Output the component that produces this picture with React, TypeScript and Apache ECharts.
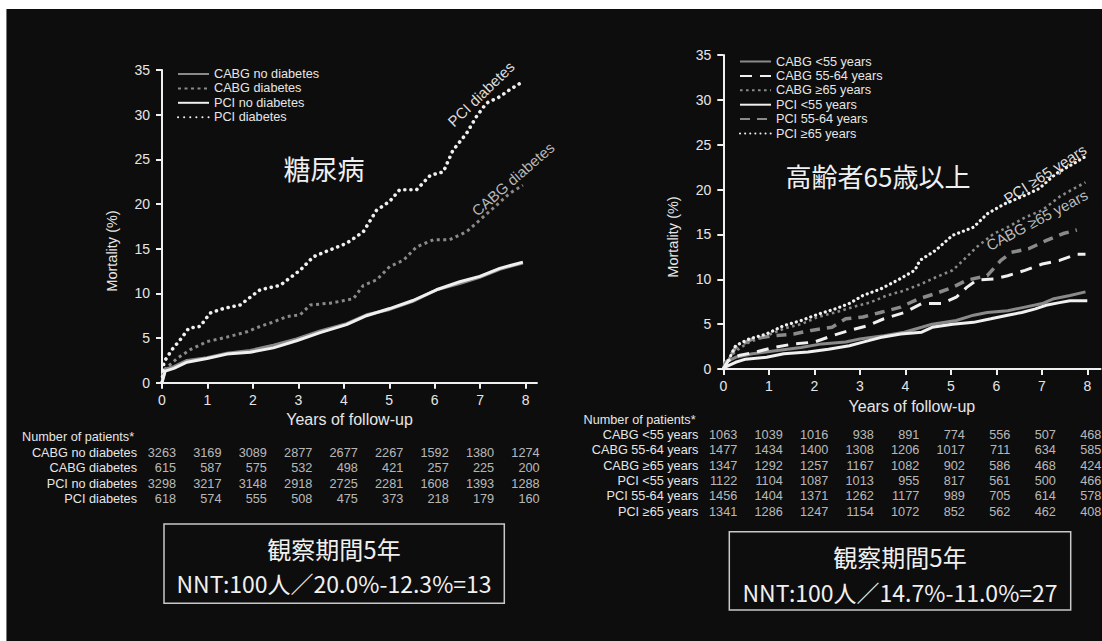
import React, { useEffect, useRef } from "react";
import * as echarts from "echarts";

// ---------- data ----------
const YEARS = [0, 1, 2, 3, 4, 5, 6, 7, 8];

const LEFT_NAMES = ["CABG no diabetes", "CABG diabetes", "PCI no diabetes", "PCI diabetes"];
const RIGHT_NAMES = [
  "CABG <55 years",
  "CABG 55-64 years",
  "CABG ≥65 years",
  "PCI <55 years",
  "PCI 55-64 years",
  "PCI ≥65 years",
];

// Mortality (%) curves, [years, %]
const cabgNoDiab = [[0,0],[0.07,1.5],[0.26,1.8],[0.55,2.5],[0.99,2.8],[1.43,3.3],[1.94,3.6],[2.45,4.2],[2.96,4.9],[3.48,5.8],[4.06,6.6],[4.5,7.6],[5.01,8.2],[5.52,9.1],[6.04,10.4],[6.55,11.1],[6.99,11.8],[7.43,12.7],[7.94,13.4]];
const cabgDiab = [[0,0],[0.04,1.4],[0.33,2.7],[0.62,3.7],[0.99,4.6],[1.43,5.1],[1.87,5.7],[2.16,6.3],[2.45,6.8],[2.75,7.4],[3.04,7.6],[3.26,8.7],[3.7,8.9],[4.21,9.4],[4.43,10.9],[4.72,11.5],[5.01,13.0],[5.31,13.7],[5.6,15.2],[5.97,16.0],[6.33,16.0],[6.7,16.9],[6.99,18.2],[7.28,19.5],[7.65,21.2],[7.94,22.1]];
const pciNoDiab = [[0,0],[0.07,1.3],[0.26,1.6],[0.55,2.3],[0.99,2.7],[1.43,3.2],[1.94,3.4],[2.45,3.9],[2.96,4.7],[3.48,5.6],[4.06,6.5],[4.5,7.5],[5.01,8.3],[5.52,9.2],[6.04,10.4],[6.55,11.3],[6.99,11.9],[7.43,12.8],[7.94,13.5]];
const pciDiab = [[0,0],[0.04,2.3],[0.22,3.7],[0.4,4.8],[0.59,6.1],[0.84,6.3],[1.06,7.8],[1.35,8.3],[1.72,8.7],[2.0,9.8],[2.16,10.4],[2.6,10.9],[3.04,12.6],[3.33,14.1],[3.62,14.7],[4.06,15.6],[4.43,16.9],[4.72,19.3],[5.01,20.3],[5.23,21.6],[5.6,21.6],[5.9,23.2],[6.19,23.6],[6.4,26.0],[6.7,27.9],[6.92,29.8],[7.14,31.3],[7.43,32.0],[7.65,32.8],[7.94,33.7]];

const cabgU55 = [[0,0],[0.04,0.75],[0.27,1.3],[0.64,1.7],[1.1,2.0],[1.71,2.4],[2.16,2.8],[2.69,3.0],[3.0,3.35],[3.53,3.7],[3.98,4.1],[4.36,4.65],[4.59,5.0],[5.12,5.4],[5.5,6.0],[5.8,6.3],[6.25,6.5],[6.63,6.9],[7.01,7.3],[7.24,7.8],[7.62,8.2],[7.96,8.6]];
const cabg5564 = [[0,0],[0.11,0.93],[0.34,1.5],[0.72,1.9],[1.1,2.4],[1.55,2.8],[2.0,3.0],[2.39,3.7],[2.77,4.3],[3.15,4.8],[3.53,5.6],[3.98,6.3],[4.36,7.3],[4.81,7.3],[5.12,8.0],[5.35,9.1],[5.57,9.9],[5.95,10.05],[6.25,10.4],[6.63,11.0],[7.01,11.7],[7.39,12.1],[7.77,12.8],[7.96,12.8]];
const cabgO65 = [[0,0],[0.08,0.93],[0.27,2.0],[0.57,3.0],[0.95,3.7],[1.33,4.5],[1.71,5.0],[2.08,5.8],[2.46,6.3],[2.84,6.9],[3.22,7.4],[3.6,8.2],[3.98,8.75],[4.36,9.5],[4.66,10.2],[5.04,11.0],[5.35,12.5],[5.57,13.6],[5.95,15.1],[6.25,15.8],[6.63,16.9],[7.01,17.7],[7.39,19.2],[7.7,20.1],[7.96,20.8]];
const pciU55 = [[0,0],[0.04,0.2],[0.27,0.75],[0.49,1.1],[0.95,1.3],[1.33,1.7],[1.86,1.9],[2.31,2.2],[2.77,2.6],[3.07,3.0],[3.45,3.5],[3.9,3.9],[4.36,4.1],[4.59,4.65],[5.04,5.0],[5.5,5.2],[5.88,5.6],[6.25,6.0],[6.56,6.3],[6.86,6.7],[7.09,7.1],[7.39,7.4],[7.62,7.6],[8.0,7.6]];
const pci5564 = [[0,0],[0.11,1.1],[0.27,2.4],[0.64,3.35],[1.1,3.7],[1.55,3.9],[1.93,4.3],[2.39,4.65],[2.69,5.6],[3.07,5.8],[3.45,6.3],[3.9,6.9],[4.28,7.8],[4.66,8.4],[5.04,9.1],[5.35,9.9],[5.8,10.4],[6.1,12.1],[6.33,13.0],[6.71,13.4],[7.09,14.3],[7.47,15.1],[7.77,15.5]];
const pciO65 = [[0,0],[0.11,0.93],[0.27,2.6],[0.57,3.35],[0.95,3.9],[1.33,4.84],[1.71,5.4],[2.08,6.1],[2.46,6.7],[2.77,7.3],[3.07,8.2],[3.45,8.9],[3.83,9.9],[4.21,11.0],[4.32,12.1],[4.66,13.2],[5.04,14.9],[5.5,15.8],[5.8,17.3],[6.18,18.4],[6.56,19.2],[6.94,20.1],[7.32,21.8],[7.7,22.9],[8.0,23.8]];

// Number of patients at risk
const leftAtRisk = [
  [3263, 3169, 3089, 2877, 2677, 2267, 1592, 1380, 1274],
  [615, 587, 575, 532, 498, 421, 257, 225, 200],
  [3298, 3217, 3148, 2918, 2725, 2281, 1608, 1393, 1288],
  [618, 574, 555, 508, 475, 373, 218, 179, 160],
];
const rightAtRisk = [
  [1063, 1039, 1016, 938, 891, 774, 556, 507, 468],
  [1477, 1434, 1400, 1308, 1206, 1017, 711, 634, 585],
  [1347, 1292, 1257, 1167, 1082, 902, 586, 468, 424],
  [1122, 1104, 1087, 1013, 955, 817, 561, 500, 466],
  [1456, 1404, 1371, 1262, 1177, 989, 705, 614, 578],
  [1341, 1286, 1247, 1154, 1072, 852, 562, 462, 408],
];

// ---------- styles ----------
const LAT = "'Liberation Sans', Arial, sans-serif";
const CJK = "'Noto Sans CJK JP', sans-serif";
const WHITE = "#f0f0f0";
const GRAY = "#8a8a8a";
const TXT = "#e6e6e6";
const FS = 12.7;

const styleSolid = (c: string) => ({ color: c, width: 3, type: "solid" as any });
const styleDots = (c: string, w: number, gap: number) => ({ color: c, width: w, type: [0.1, gap] as any, cap: "round" as any });
const styleSquareDots = (c: string, w: number, d: number, gap: number) => ({ color: c, width: w, type: [d, gap] as any });
const styleDash = (c: string, w: number, d: number, gap: number) => ({ color: c, width: w, type: [d, gap] as any });

function lineSeries(name: string, data: number[][], idx: number, ls: any, z = 2) {
  return {
    type: "line",
    name,
    data,
    xAxisIndex: idx,
    yAxisIndex: idx,
    showSymbol: false,
    symbol: "none",
    lineStyle: ls,
    itemStyle: { color: ls.color },
    z,
    silent: true,
  };
}

function tableSeries(names: string[], rows: number[][], idx: number) {
  const data: any[] = [];
  rows.forEach((r, ri) => r.forEach((v, ci) => data.push([YEARS[ci], names[ri], v])));
  return {
    type: "scatter",
    xAxisIndex: idx,
    yAxisIndex: idx,
    data,
    symbol: "circle",
    symbolSize: 1,
    itemStyle: { color: "transparent" },
    silent: true,
    label: {
      show: true,
      position: "inside",
      formatter: (p: any) => String(p.value[2]),
      color: TXT,
      fontSize: FS,
      fontFamily: LAT,
      align: "right",
      offset: [14, 0],
    },
  };
}

function mainX(gridIndex: number, max: number) {
  return {
    type: "value",
    gridIndex,
    min: 0,
    max,
    axisLine: { show: true, onZero: false, lineStyle: { color: WHITE, width: 2 } },
    axisTick: { show: true, customValues: YEARS, length: 6, lineStyle: { color: WHITE, width: 2 } },
    axisLabel: { customValues: YEARS, color: TXT, fontSize: 14, fontFamily: LAT, margin: 10 },
    splitLine: { show: false },
    name: "Years of follow-up",
    nameLocation: "middle",
    nameGap: 29,
    nameTextStyle: { color: TXT, fontSize: 16, fontFamily: LAT },
  };
}

function mainY(gridIndex: number) {
  return {
    type: "value",
    gridIndex,
    min: 0,
    max: 35,
    interval: 5,
    axisLine: { show: true, lineStyle: { color: WHITE, width: 2 } },
    axisTick: { show: true, length: 6, lineStyle: { color: WHITE, width: 2 } },
    axisLabel: { color: TXT, fontSize: 14, fontFamily: LAT, margin: 12 },
    splitLine: { show: false },
  };
}

function tableX(gridIndex: number, max: number) {
  return { type: "value", gridIndex, min: 0, max, show: false };
}
function tableY(gridIndex: number, names: string[]) {
  return {
    type: "category",
    gridIndex,
    data: names,
    inverse: true,
    axisLine: { show: false },
    axisTick: { show: false },
    splitLine: { show: false },
    axisLabel: { interval: 0, color: TXT, fontSize: FS, fontFamily: LAT, margin: 25 },
  };
}

const PX = 45.45;

function legendOpt(names: string[], left: number, top: number) {
  return {
    data: names,
    orient: "vertical",
    left,
    top,
    itemWidth: 31,
    itemHeight: 12,
    itemGap: 1.4,
    selectedMode: false,
    itemStyle: { opacity: 0, borderWidth: 0 },
    textStyle: { color: TXT, fontSize: FS, fontFamily: LAT },
  };
}

export default function App() {
  const ref = useRef<HTMLDivElement>(null);
  useEffect(() => {
    if (!ref.current) return;
    const chart = echarts.init(ref.current, null, { renderer: "svg" });
    const leftMax = 8.25;
    const rightMax = 8.29;
    const option: any = {
      animation: false,
      backgroundColor: "#ffffff",
      grid: [
        { left: 162, top: 70, width: leftMax * PX, height: 312.7, outerBoundsMode: "none" },
        { left: 723.3, top: 55, width: rightMax * 45.5, height: 314, outerBoundsMode: "none" },
        { left: 162, top: 445.5, width: leftMax * PX, height: 61.3, outerBoundsMode: "none" },
        { left: 723.3, top: 427.3, width: rightMax * 45.5, height: 92.1, outerBoundsMode: "none" },
      ],
      xAxis: [mainX(0, leftMax), mainX(1, rightMax), tableX(2, leftMax), tableX(3, rightMax)],
      yAxis: [mainY(0), mainY(1), tableY(2, LEFT_NAMES), tableY(3, RIGHT_NAMES)],
      legend: [legendOpt(LEFT_NAMES, 172, 62.5), legendOpt(RIGHT_NAMES, 734, 50)],
      series: [
        lineSeries(LEFT_NAMES[0], cabgNoDiab, 0, styleSolid(GRAY), 2),
        lineSeries(LEFT_NAMES[1], cabgDiab, 0, styleSquareDots(GRAY, 3, 3, 3.5), 2),
        lineSeries(LEFT_NAMES[2], pciNoDiab, 0, styleSolid(WHITE), 3),
        lineSeries(LEFT_NAMES[3], pciDiab, 0, styleDots(WHITE, 3.6, 6), 3),
        lineSeries(RIGHT_NAMES[0], cabgU55, 1, styleSolid(GRAY), 2),
        lineSeries(RIGHT_NAMES[1], cabg5564, 1, styleDash(WHITE, 3, 12, 8), 3),
        lineSeries(RIGHT_NAMES[2], cabgO65, 1, styleSquareDots(GRAY, 2.6, 2.6, 3.4), 2),
        lineSeries(RIGHT_NAMES[3], pciU55, 1, styleSolid(WHITE), 3),
        lineSeries(RIGHT_NAMES[4], pci5564, 1, styleDash(GRAY, 3.5, 10, 7), 2),
        lineSeries(RIGHT_NAMES[5], pciO65, 1, styleDots(WHITE, 3.2, 5), 3),
        tableSeries(LEFT_NAMES, leftAtRisk, 2),
        tableSeries(RIGHT_NAMES, rightAtRisk, 3),
      ],
      graphic: [
        { type: "rect", z: -100, silent: true, shape: { x: 6, y: 9, width: 1096, height: 632 }, style: { fill: "#0d0d0d" } },
        { type: "line", z: -99, silent: true, shape: { x1: 6.5, y1: 9, x2: 6.5, y2: 641 }, style: { stroke: "#777", lineWidth: 1 } },
        { type: "text", x: 324, y: 168, style: { text: "糖尿病", fill: WHITE, font: `27px ${CJK}`, align: "center", verticalAlign: "middle" } },
        { type: "text", x: 878, y: 175, style: { text: "高齢者65歳以上", fill: WHITE, font: `26px ${CJK}`, align: "center", verticalAlign: "middle" } },
        { type: "text", x: 481, y: 94, rotation: (44 * Math.PI) / 180, style: { text: "PCI diabetes", fill: "#dcdcdc", font: `15px ${LAT}`, align: "center", verticalAlign: "middle" } },
        { type: "text", x: 513, y: 179, rotation: (41 * Math.PI) / 180, style: { text: "CABG diabetes", fill: "#b8b8b8", font: `15px ${LAT}`, align: "center", verticalAlign: "middle" } },
        { type: "text", x: 1045, y: 174, rotation: (33 * Math.PI) / 180, style: { text: "PCI ≥65 years", fill: "#dcdcdc", font: `15px ${LAT}`, align: "center", verticalAlign: "middle" } },
        { type: "text", x: 1037, y: 220, rotation: (28 * Math.PI) / 180, style: { text: "CABG ≥65 years", fill: "#bcbcbc", font: `15px ${LAT}`, align: "center", verticalAlign: "middle" } },
        { type: "text", x: 112, y: 251, rotation: Math.PI / 2, style: { text: "Mortality (%)", fill: TXT, font: `14.5px ${LAT}`, align: "center", verticalAlign: "middle" } },
        { type: "text", x: 673, y: 237, rotation: Math.PI / 2, style: { text: "Mortality (%)", fill: TXT, font: `14.5px ${LAT}`, align: "center", verticalAlign: "middle" } },
        { type: "text", x: 22, y: 437, style: { text: "Number of patients*", fill: TXT, font: `${FS}px ${LAT}`, align: "left", verticalAlign: "middle" } },
        { type: "text", x: 583.5, y: 420.4, style: { text: "Number of patients*", fill: TXT, font: `${FS}px ${LAT}`, align: "left", verticalAlign: "middle" } },
        { type: "rect", shape: { x: 164, y: 524, width: 340.3, height: 79.3 }, style: { fill: "none", stroke: "#c8c8c8", lineWidth: 1.5 } },
        { type: "text", x: 334, y: 548.3, style: { text: "観察期間5年", fill: WHITE, font: `24px ${CJK}`, align: "center", verticalAlign: "middle" } },
        { type: "text", x: 334, y: 582.7, style: { text: "NNT:100人／20.0%-12.3%=13", fill: WHITE, font: `23px ${CJK}`, align: "center", verticalAlign: "middle" } },
        { type: "rect", shape: { x: 729.3, y: 531.7, width: 341.4, height: 78.3 }, style: { fill: "none", stroke: "#c8c8c8", lineWidth: 1.5 } },
        { type: "text", x: 900, y: 556.7, style: { text: "観察期間5年", fill: WHITE, font: `24px ${CJK}`, align: "center", verticalAlign: "middle" } },
        { type: "text", x: 900, y: 591.7, style: { text: "NNT:100人／14.7%-11.0%=27", fill: WHITE, font: `23px ${CJK}`, align: "center", verticalAlign: "middle" } },
      ],
    };
    chart.setOption(option);
    return () => chart.dispose();
  }, []);
  return (
    <div style={{ position: "absolute", left: 0, top: 0, width: 1102, height: 641 }}>
      <div ref={ref} style={{ width: 1102, height: 641 }} />
    </div>
  );
}
